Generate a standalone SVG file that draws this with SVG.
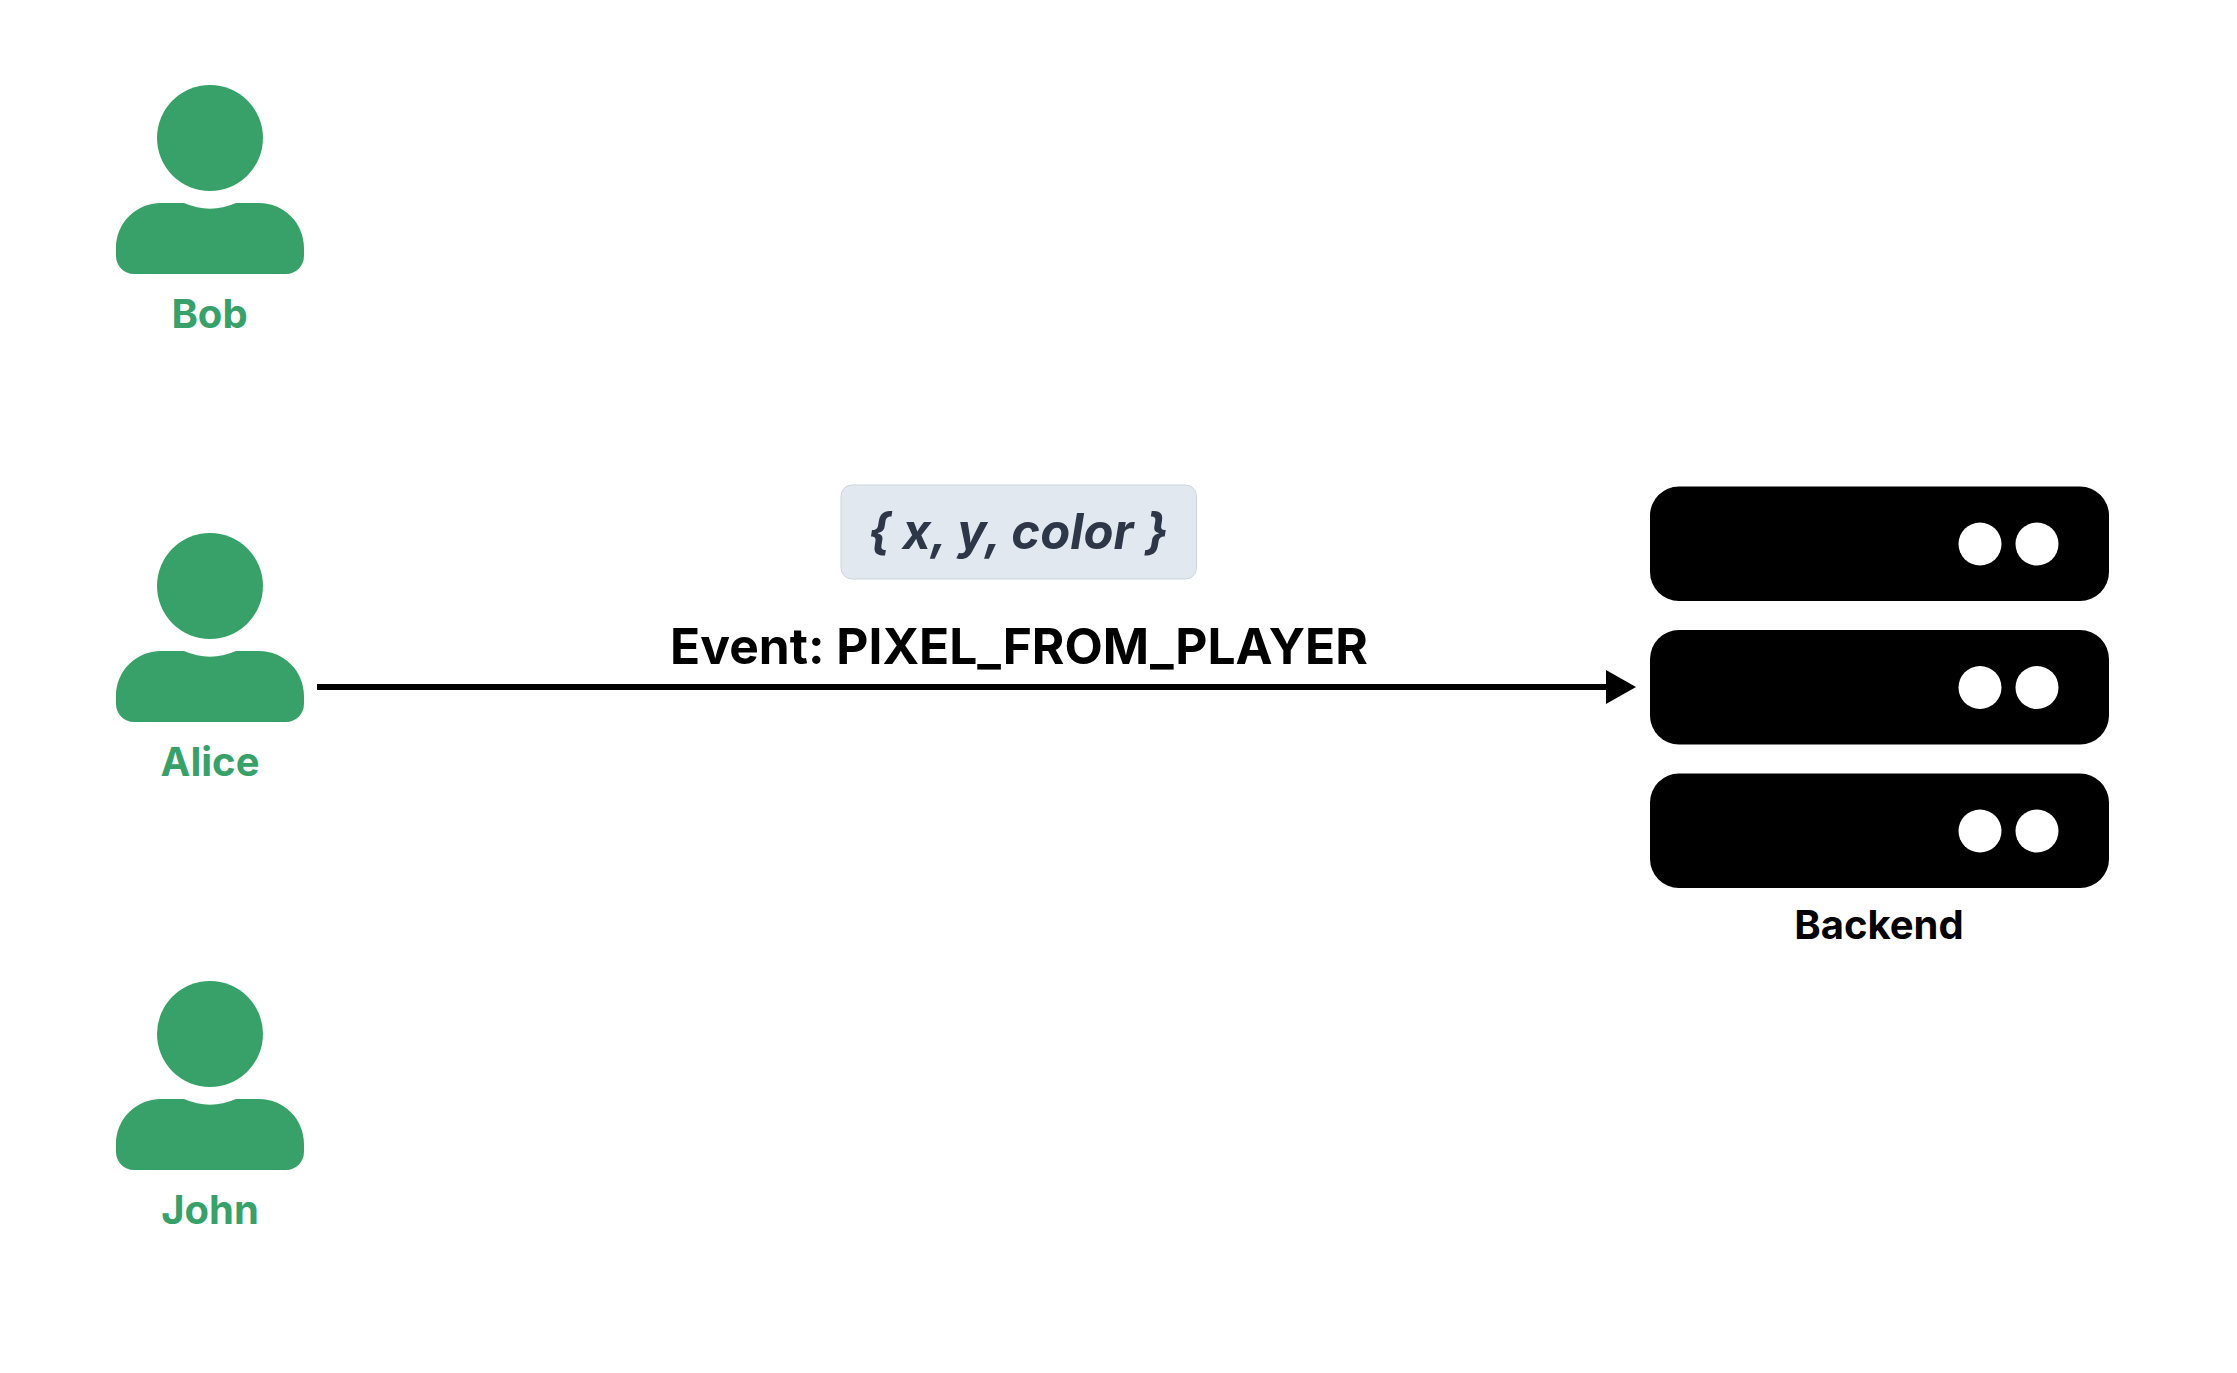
<svg xmlns="http://www.w3.org/2000/svg" width="2237" height="1373" viewBox="0 0 2237 1373">
<style>
text{font-family:Inter,"Liberation Sans",sans-serif;text-anchor:middle}
.person{fill:#38a169}
.plabel{fill:#38a169;font-size:40px;font-weight:700}
.srv{fill:#000}
.dot{fill:#fff}
</style>
<defs>
<g id="person">
<circle cx="210" cy="138" r="53"/>
<path d="M161 203H184Q197 208.700 210 208.700T236 203H259C284 203 304 223 304 248V256C304 266 296 274 286 274H134C124 274 116 266 116 256V248C116 223 136 203 161 203Z"/>
</g>
<g id="server">
<rect x="1650" y="0" width="459" height="114.500" rx="29" ry="29"/>
<circle class="dot" cx="1980" cy="57.500" r="21.500"/>
<circle class="dot" cx="2037" cy="57.500" r="21.500"/>
</g>
</defs>
<rect width="2237" height="1373" fill="#fff"/>
<g id="connectors">
<line x1="317" y1="687" x2="1608" y2="687" stroke="#000" stroke-width="6"/>
<polygon points="1606,670 1636,687 1606,704" fill="#000"/>
<text x="1019" y="664" font-size="49.700" font-weight="700" fill="#000">Event: PIXEL_FROM_PLAYER</text>
</g>
<g id="bob"><use href="#person" class="person"/><text class="plabel" x="209.500" y="328">Bob</text></g>
<g id="alice"><use href="#person" class="person" y="448"/><text class="plabel" x="210" y="776">Alice</text></g>
<g id="john"><use href="#person" class="person" y="896"/><text class="plabel" x="210" y="1224">John</text></g>
<g id="payload">
<rect x="841" y="485" width="355.500" height="94" rx="11" fill="#e2e8f0" stroke="#cbd5e0" stroke-width="1"/>
<text x="1018" y="549" font-size="49" font-weight="700" font-style="italic" fill="#2d3748">{ x, y, color }</text>
</g>
<g id="backend">
<use href="#server" class="srv" y="486.500"/>
<use href="#server" class="srv" y="630"/>
<use href="#server" class="srv" y="773.500"/>
<text x="1879" y="939" font-size="40" font-weight="700" fill="#000">Backend</text>
</g>
</svg>
